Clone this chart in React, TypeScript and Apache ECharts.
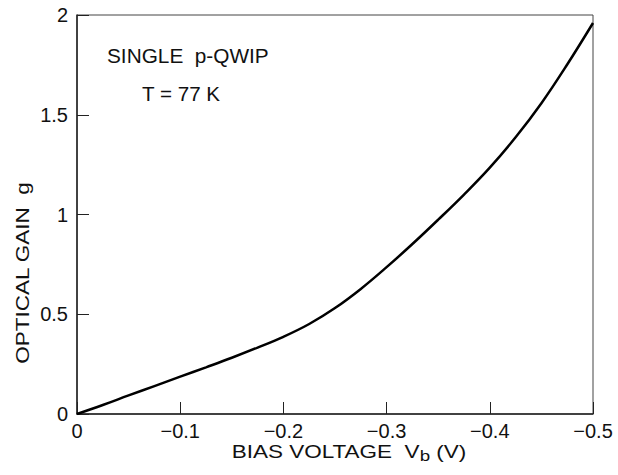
import React, { useEffect, useRef } from "react";
import * as echarts from "echarts";

const biasVoltage = [0, -0.025, -0.05, -0.075, -0.1, -0.125, -0.15, -0.175, -0.2, -0.225, -0.25, -0.275, -0.3, -0.325, -0.35, -0.375, -0.4, -0.425, -0.45, -0.475, -0.5];
const opticalGain = [0, 0.045, 0.093, 0.14, 0.187, 0.234, 0.282, 0.333, 0.387, 0.451, 0.531, 0.627, 0.736, 0.852, 0.974, 1.1, 1.235, 1.387, 1.558, 1.752, 1.96];
const annotations = ["SINGLE  p-QWIP", "T = 77 K"];

const FONT = "'Liberation Sans', Arial, Helvetica, sans-serif";

export default function App() {
  const ref = useRef<HTMLDivElement>(null);
  useEffect(() => {
    if (!ref.current) return;
    const chart = echarts.init(ref.current, null, { renderer: "svg" });
    const data = biasVoltage.map((v, i) => [v, opticalGain[i]]);
    chart.setOption({
      animation: false,
      backgroundColor: "#ffffff",
      grid: {
        left: 77,
        right: 25,
        top: 15,
        bottom: 61,
        show: true,
        borderColor: "#444",
        borderWidth: 1,
        backgroundColor: "transparent",
      },
      xAxis: {
        type: "value",
        min: -0.5,
        max: 0,
        interval: 0.1,
        inverse: true,
        axisLine: { show: true, onZero: false, lineStyle: { color: "#222", width: 1.5 } },
        axisTick: { show: true, inside: true, length: 12, lineStyle: { color: "#222", width: 1 } },
        splitLine: { show: false },
        axisLabel: {
          margin: 7,
          color: "#111",
          fontSize: 20,
          fontFamily: FONT,
          formatter: (v: number) => (Math.abs(v) < 1e-9 ? "0" : "\u2212" + Math.abs(v).toFixed(1)),
        },
      },
      yAxis: {
        type: "value",
        min: 0,
        max: 2,
        interval: 0.5,
        axisLine: { show: true, onZero: false, lineStyle: { color: "#222", width: 1.5 } },
        axisTick: { show: true, inside: true, length: 12, lineStyle: { color: "#222", width: 1 } },
        splitLine: { show: false },
        axisLabel: {
          margin: 9,
          color: "#111",
          fontSize: 20,
          fontFamily: FONT,
          formatter: (v: number) => String(v),
        },
      },
      graphic: [
        {
          type: "text",
          x: 107,
          y: 56,
          scaleX: 1.04,
          style: { text: annotations[0], fontSize: 20, fontFamily: FONT, fill: "#111", align: "left", verticalAlign: "middle" },
        },
        {
          type: "text",
          x: 142,
          y: 94,
          scaleX: 1.03,
          style: { text: annotations[1], fontSize: 20, fontFamily: FONT, fill: "#111", align: "left", verticalAlign: "middle" },
        },
        {
          type: "text",
          x: 23,
          y: 273,
          rotation: Math.PI / 2,
          scaleX: 1.25,
          style: {
            text: "OPTICAL GAIN  g",
            fontSize: 18,
            fontFamily: FONT,
            fill: "#111",
            align: "center",
            verticalAlign: "middle",
          },
        },
        {
          type: "text",
          x: 349,
          y: 452,
          scaleX: 1.25,
          style: {
            text: "BIAS VOLTAGE  V{sub|b} (V)",
            rich: {
              sub: { fontSize: 15, fontFamily: FONT, fill: "#111", padding: [8, 0, 0, 0] },
            },
            fontSize: 18,
            fontFamily: FONT,
            fill: "#111",
            align: "center",
            verticalAlign: "middle",
          },
        },
      ],
      series: [
        {
          type: "line",
          data,
          smooth: 0.4,
          showSymbol: false,
          symbol: "none",
          lineStyle: { color: "#000", width: 2.5 },
        },
      ],
    });
    return () => chart.dispose();
  }, []);
  return (
    <div
      ref={ref}
      style={{ position: "fixed", left: 0, top: 0, width: 618, height: 475 }}
    />
  );
}
